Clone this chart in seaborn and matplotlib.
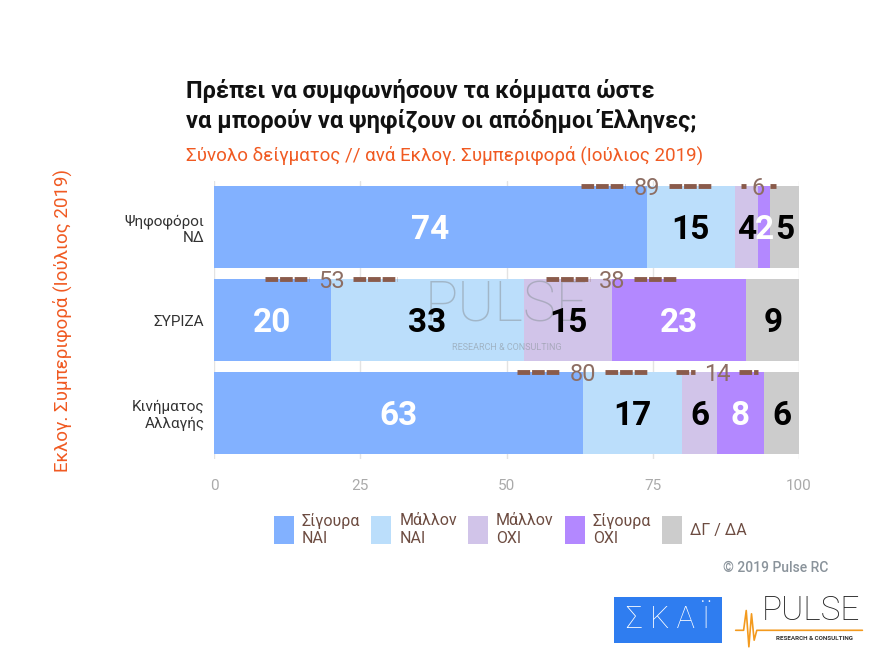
import matplotlib
matplotlib.use("Agg")
import matplotlib.pyplot as plt
import matplotlib.patches as mpatches
import numpy as np
import pandas as pd
import seaborn as sns

# ---- data ----
categories = ["Ψηφοφόροι\nΝΔ", "ΣΥΡΙΖΑ", "Κινήματος\nΑλλαγής"]
series_names = ["Σίγουρα\nΝΑΙ", "Μάλλον\nΝΑΙ", "Μάλλον\nΟΧΙ", "Σίγουρα\nΟΧΙ", "ΔΓ / ΔΑ"]
sigoura_nai = [74, 20, 63]
mallon_nai = [15, 33, 17]
mallon_oxi = [4, 15, 6]
sigoura_oxi = [2, 23, 8]
dg_da = [5, 9, 6]
total_nai = [89, 53, 80]
total_oxi = [6, 38, 14]
x_ticks = [0, 25, 50, 75, 100]

colors = ["#82B1FF", "#BBDEFB", "#D1C4E9", "#B388FF", "#CCCCCC"]
label_colors = ["white", "black", "black", "white", "black"]

sns.set_style("white")
plt.rcParams["font.family"] = ["Roboto", "DejaVu Sans"]

fig = plt.figure(figsize=(8.8, 6.6), dpi=100)
ax = fig.add_axes([0.2432, 0.3038, 0.6648, 0.4227])

series = [sigoura_nai, mallon_nai, mallon_oxi, sigoura_oxi, dg_da]
df = pd.DataFrame({n: v for n, v in zip(series_names, series)}, index=categories)
cum = df.cumsum(axis=1)
left = cum - df

# gridlines
for t in x_ticks:
    ax.axvline(t, color="#e3e3e3", lw=1, zorder=0)

# stacked bars drawn from largest cumulative to smallest
for k in range(len(series_names) - 1, -1, -1):
    col = series_names[k]
    sns.barplot(x=cum[col].values, y=categories, orient="h", color=colors[k],
                width=0.88, saturation=1, ax=ax, zorder=2, linewidth=0)

# value labels
for i, cat in enumerate(categories):
    for k, col in enumerate(series_names):
        v = df.loc[cat, col]
        cx = left.loc[cat, col] + v / 2
        ax.text(cx, i + 0.03, f"{v}", ha="center", va="center", fontsize=24,
                fontweight="bold", color=label_colors[k], zorder=5)

# bracket totals
brown_line = "#8A5B4B"
brown_txt = "#8D6E63"
def bracket(center, yv, total):
    half = min(total / 2, 11.2)
    gap = 1.75 * len(str(total)) + 0.3
    for a, b in [(center - half, center - gap), (center + gap, center + half)]:
        if b > a:
            ax.plot([a, b], [yv, yv], color=brown_line, lw=3.5,
                    dashes=(2.6, 0.4), solid_capstyle="butt", zorder=6,
                    dash_capstyle="butt")
    ax.text(center, yv + 0.025, f"{total}", ha="center", va="center",
            fontsize=17, color=brown_txt, zorder=7)

for i, cat in enumerate(categories):
    ytop = i - 0.44
    bracket(cum.loc[cat, series_names[0]], ytop, total_nai[i])
    bracket(cum.loc[cat, series_names[2]], ytop, total_oxi[i])

ax.set_xlim(0, 100)
ax.set_ylim(2.5, -0.5)
ax.set_xticks(x_ticks)
ax.set_xticklabels([str(t) for t in x_ticks], color="#aaaaaa", fontsize=11)
ax.tick_params(axis="x", length=0, pad=14)
ax.tick_params(axis="y", length=0, pad=7)
for lab in ax.get_yticklabels():
    lab.set_fontsize(11)
    lab.set_color("#333333")
    lab.set_horizontalalignment("right")
    lab.set_multialignment("right")
ax.set_xlabel("")
ax.set_ylabel("")
for s in ax.spines.values():
    s.set_visible(False)

# watermark
ax.text(0.5, 0.55, "PULSE", transform=ax.transAxes, ha="center", va="center",
        fontsize=40, fontweight="light", color="#8d969e", alpha=0.55, zorder=4)
ax.text(0.5, 0.4, "RESEARCH & CONSULTING", transform=ax.transAxes, ha="center",
        va="center", fontsize=6.5, color="#8d969e", alpha=0.6, zorder=4)

# titles
fig.text(0.211, 0.882, "Πρέπει να συμφωνήσουν τα κόμματα ώστε\nνα μπορούν να ψηφίζουν οι απόδημοι Έλληνες;",
         ha="left", va="top", fontsize=17, fontweight="bold", color="#111111",
         linespacing=1.3)
fig.text(0.211, 0.765, "Σύνολο δείγματος // ανά Εκλογ. Συμπεριφορά (Ιούλιος 2019)",
         ha="left", va="center", fontsize=13.5, color="#F05A22")
fig.text(0.071, 0.515, "Εκλογ. Συμπεριφορά (Ιούλιος 2019)", rotation=90,
         ha="center", va="center", fontsize=13.5, color="#F05A22")

# legend
handles = [mpatches.Patch(facecolor=c, edgecolor="none") for c in colors]
leg = fig.legend(handles, series_names, loc="center", bbox_to_anchor=(0.58, 0.198),
                 ncol=5, frameon=False, fontsize=11.5, handlelength=1.25,
                 handleheight=2.3, handletextpad=0.5, columnspacing=0.7,
                 labelcolor="#6D4C41")

fig.text(0.941, 0.139, "© 2019 Pulse RC", ha="right", va="center", fontsize=10,
         color="#8a939b", fontweight="medium")

# logos
fig.patches.append(mpatches.Rectangle((0.698, 0.026), 0.1227, 0.070,
                                      transform=fig.transFigure, facecolor="#2F7DF0",
                                      edgecolor="none"))
fig.text(0.759, 0.061, "Σ Κ Α Ϊ", ha="center", va="center", fontsize=22,
         color="white", fontweight="light")
fig.text(0.922, 0.074, "PULSE", ha="center", va="center", fontsize=24,
         color="#222222", fontweight="light")
fig.text(0.925, 0.032, "RESEARCH & CONSULTING", ha="center", va="center",
         fontsize=4.5, color="#333333", fontweight="bold")
xs = [0.836, 0.845, 0.848, 0.851, 0.854, 0.857, 0.86, 0.98]
ys = [0.045, 0.045, 0.075, 0.02, 0.07, 0.03, 0.045, 0.045]
fig.lines.append(plt.Line2D(xs, ys, transform=fig.transFigure, color="#F39A1E", lw=1.2))

fig.savefig("out.png", dpi=100)
